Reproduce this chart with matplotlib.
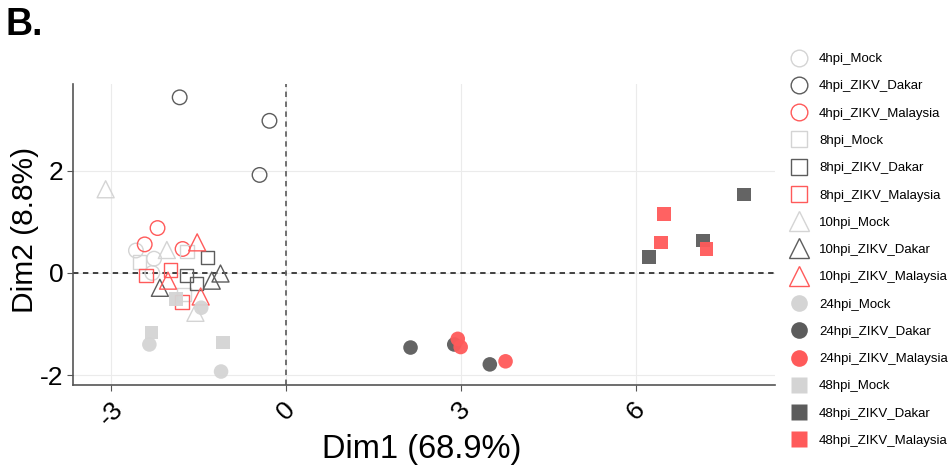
"""PCA individuals plot (Dim1 vs Dim2) for ZIKV infection time course"""

import matplotlib
matplotlib.use('Agg')
import matplotlib.pyplot as plt
from matplotlib.lines import Line2D

plt.rcParams['font.family'] = ['Liberation Sans', 'DejaVu Sans']
plt.rcParams['axes.unicode_minus'] = False

# group names, in legend order
groups = ['4hpi_Mock', '4hpi_ZIKV_Dakar', '4hpi_ZIKV_Malaysia',
          '8hpi_Mock', '8hpi_ZIKV_Dakar', '8hpi_ZIKV_Malaysia',
          '10hpi_Mock', '10hpi_ZIKV_Dakar', '10hpi_ZIKV_Malaysia',
          '24hpi_Mock', '24hpi_ZIKV_Dakar', '24hpi_ZIKV_Malaysia',
          '48hpi_Mock', '48hpi_ZIKV_Dakar', '48hpi_ZIKV_Malaysia']

# Dim1 / Dim2 coordinates of the three replicates in each group
dim1 = {
    '4hpi_Mock': [-2.58, -2.27, -2.30],
    '4hpi_ZIKV_Dakar': [-1.83, -0.29, -0.46],
    '4hpi_ZIKV_Malaysia': [-2.21, -2.43, -1.78],
    '8hpi_Mock': [-2.52, -1.70, -1.76],
    '8hpi_ZIKV_Dakar': [-1.35, -1.71, -1.54],
    '8hpi_ZIKV_Malaysia': [-2.41, -1.99, -1.79],
    '10hpi_Mock': [-3.10, -2.05, -1.56],
    '10hpi_ZIKV_Dakar': [-2.17, -1.28, -1.13],
    '10hpi_ZIKV_Malaysia': [-1.53, -2.03, -1.47],
    '24hpi_Mock': [-1.46, -2.35, -1.12],
    '24hpi_ZIKV_Dakar': [2.88, 3.49, 2.13],
    '24hpi_ZIKV_Malaysia': [2.94, 2.99, 3.76],
    '48hpi_Mock': [-1.89, -2.31, -1.09],
    '48hpi_ZIKV_Dakar': [7.85, 7.15, 6.22],
    '48hpi_ZIKV_Malaysia': [6.48, 6.43, 7.21],
}
dim2 = {
    '4hpi_Mock': [0.44, 0.28, 0.00],
    '4hpi_ZIKV_Dakar': [3.44, 2.98, 1.92],
    '4hpi_ZIKV_Malaysia': [0.88, 0.56, 0.47],
    '8hpi_Mock': [0.21, 0.42, -0.42],
    '8hpi_ZIKV_Dakar': [0.30, -0.05, -0.21],
    '8hpi_ZIKV_Malaysia': [-0.05, 0.06, -0.57],
    '10hpi_Mock': [1.64, 0.45, -0.78],
    '10hpi_ZIKV_Dakar': [-0.29, -0.15, -0.01],
    '10hpi_ZIKV_Malaysia': [0.60, -0.15, -0.46],
    '24hpi_Mock': [-0.68, -1.40, -1.93],
    '24hpi_ZIKV_Dakar': [-1.40, -1.79, -1.46],
    '24hpi_ZIKV_Malaysia': [-1.29, -1.45, -1.73],
    '48hpi_Mock': [-0.51, -1.17, -1.36],
    '48hpi_ZIKV_Dakar': [1.54, 0.64, 0.31],
    '48hpi_ZIKV_Malaysia': [1.16, 0.60, 0.47],
}

x_ticks = [-3, 0, 3, 6]
y_ticks = [-2, 0, 2]

colors = {'Mock': '#d4d4d4', 'Dakar': '#5c5c5c', 'Malaysia': '#ff5a5a'}
shapes = {'4hpi': ('o', False), '8hpi': ('s', False), '10hpi': ('^', False),
          '24hpi': ('o', True), '48hpi': ('s', True)}
sizes = {'o': 110, 's': 95, '^': 150}


def style_for(group):
    time = group.split('_')[0]
    strain = group.split('_')[-1]
    marker, filled = shapes[time]
    return marker, filled, colors[strain]


fig = plt.figure(figsize=(9.48, 4.67), dpi=100)
ax = fig.add_axes([0.077, 0.176, 0.741, 0.644])

handles = []
for g in groups:
    marker, filled, col = style_for(g)
    if filled:
        ax.scatter(dim1[g], dim2[g], marker=marker, s=sizes[marker], color=col,
                   edgecolors='none', alpha=0.95, zorder=3)
    else:
        ax.scatter(dim1[g], dim2[g], marker=marker, s=sizes[marker], facecolors='none',
                   edgecolors=col, linewidths=1.0, zorder=3)
    handles.append(Line2D([], [], linestyle='none', marker=marker,
                          markersize=14 if marker == '^' else 12,
                          markerfacecolor=col if filled else 'none',
                          markeredgecolor=col if not filled else 'none',
                          markeredgewidth=1.0, label=g))

ax.axhline(0, color='#333333', linestyle=(0, (3, 2.5)), linewidth=1.3, zorder=2)
ax.axvline(0, color='#666666', linestyle=(0, (3, 2.5)), linewidth=1.3, zorder=2)

ax.set_xlim(-3.66, 8.39)
ax.set_ylim(-2.19, 3.70)
ax.set_xticks(x_ticks)
ax.set_yticks(y_ticks)
ax.set_xticklabels([str(t) for t in x_ticks], rotation=45, ha='center', va='top')
ax.tick_params(axis='both', labelsize=19, length=4, color='#555555', labelcolor='black')
ax.tick_params(axis='x', pad=5)
ax.tick_params(axis='y', pad=3)
ax.grid(True, color='#ebebeb', linewidth=0.8, zorder=0)
ax.set_axisbelow(True)
for side in ['top', 'right']:
    ax.spines[side].set_visible(False)
for side in ['left', 'bottom']:
    ax.spines[side].set_color('#555555')
    ax.spines[side].set_linewidth(1.2)

ax.set_xlabel('Dim1 (68.9%)', fontsize=23.5)
ax.set_ylabel('Dim2 (8.8%)', fontsize=21.5)
ax.xaxis.set_label_coords(0.4964, -0.162)
ax.yaxis.set_label_coords(-0.048, 0.515)

fig.text(0.006, 0.985, 'B.', fontsize=27, fontweight='bold', va='top', ha='left')

fig.legend(handles=handles, loc='upper left', bbox_to_anchor=(0.829, 0.898),
           frameon=False, fontsize=9.5, handlelength=1.2, handletextpad=0.9,
           labelspacing=1.14, borderaxespad=0)

fig.savefig('out.png', dpi=100)
